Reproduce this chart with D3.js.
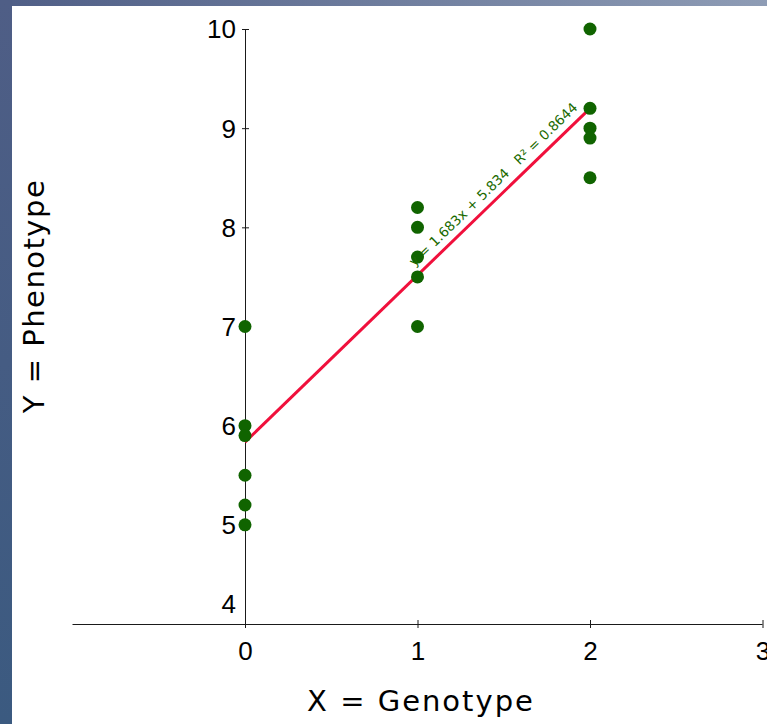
<!DOCTYPE html>
<html>
<head>
<meta charset="utf-8">
<script src="https://cdn.jsdelivr.net/npm/d3@7.9.0/dist/d3.min.js"></script>
<style>
  body { margin: 0; background: #fff; }
  svg { display: block; font-family: 'DejaVu Sans', sans-serif; }
</style>
</head>
<body>
<svg id="chart" width="767" height="724"></svg>
<script>
// genotype groups and the phenotype values
const genotypes = [0, 0, 0, 0, 0, 0, 1, 1, 1, 1, 1, 2, 2, 2, 2, 2];
const phenotypes = [7.0, 6.0, 5.9, 5.5, 5.2, 5.0, 8.2, 8.0, 7.7, 7.5, 7.0, 10.0, 9.2, 9.0, 8.9, 8.5];

// trendline as printed on the chart
const slope = 1.683;
const intercept = 5.834;
const rSquared = '0.8644';

const xTicks = [0, 1, 2, 3];
const yTicks = [4, 5, 6, 7, 8, 9, 10];

const width = 767;
const height = 724;

const svg = d3.select('#chart');

// backdrop: blue frame on the left and top
const defs = svg.append('defs');
const sideGrad = defs.append('linearGradient')
  .attr('id', 'side').attr('x1', 0).attr('y1', 0).attr('x2', 0).attr('y2', 1);
sideGrad.append('stop').attr('offset', 0).attr('stop-color', '#4f5e86');
sideGrad.append('stop').attr('offset', 1).attr('stop-color', '#3b5a80');
const topGrad = defs.append('linearGradient')
  .attr('id', 'topbar').attr('x1', 0).attr('y1', 0).attr('x2', 1).attr('y2', 0);
topGrad.append('stop').attr('offset', 0).attr('stop-color', '#4f5e86');
topGrad.append('stop').attr('offset', 1).attr('stop-color', '#8e9cb5');

svg.append('rect').attr('x', 0).attr('y', 0).attr('width', width).attr('height', 6).attr('fill', 'url(#topbar)');
svg.append('rect').attr('x', 0).attr('y', 0).attr('width', 12).attr('height', height).attr('fill', 'url(#side)');

const x = d3.scaleLinear().domain([-1, 3]).range([72.5, 762.5]);
const y = d3.scaleLinear().domain([4, 10]).range([624, 29]);

// x axis (crosses at y = 4)
const xAxis = svg.append('g')
  .attr('transform', `translate(0,${y(4)})`)
  .call(d3.axisBottom(x).tickValues(xTicks).tickFormat(d3.format('d')).tickSize(4).tickPadding(14));
xAxis.select('.domain').attr('stroke', '#1a1a1a').attr('d', `M${x(-1)},0.5H${x(3)}`);
xAxis.selectAll('.tick line').attr('y1', -4).attr('y2', 4).attr('stroke', '#1a1a1a');
xAxis.selectAll('.tick text').attr('font-size', 26).attr('fill', '#000');

// y axis at x = 0
const yAxis = svg.append('g')
  .attr('transform', `translate(${x(0)},0)`)
  .call(d3.axisLeft(y).tickValues(yTicks).tickFormat(d3.format('d')).tickSize(3).tickPadding(6));
yAxis.select('.domain').attr('stroke', '#1a1a1a').attr('d', `M0.5,${y(10)}V${y(4)}`);
yAxis.selectAll('.tick line').attr('x1', -3).attr('x2', 4).attr('stroke', '#1a1a1a');
yAxis.selectAll('.tick').filter(d => d === 4).select('line').remove();
yAxis.selectAll('.tick text')
  .attr('font-size', 26)
  .attr('fill', '#000')
  .attr('dy', d => (d === 4 ? '-0.45em' : '0.34em'));

// regression line over the observed genotypes
const lineX = d3.extent(genotypes);
svg.append('line')
  .attr('x1', x(lineX[0])).attr('y1', y(intercept + slope * lineX[0]))
  .attr('x2', x(lineX[1])).attr('y2', y(intercept + slope * lineX[1]))
  .attr('stroke', '#f0103c')
  .attr('stroke-width', 3);

// points
svg.append('g')
  .selectAll('circle')
  .data(genotypes.map((g, i) => ({ g, p: phenotypes[i] })))
  .join('circle')
  .attr('cx', d => x(d.g))
  .attr('cy', d => y(d.p))
  .attr('r', 6.5)
  .attr('fill', '#106400');

// equation label along the trendline
const midX = 1.49;
const angle = Math.atan2(y(intercept + slope * 2) - y(intercept), x(2) - x(0)) * 180 / Math.PI;
svg.append('text')
  .attr('transform', `translate(${x(midX)},${y(intercept + slope * midX)}) rotate(${angle})`)
  .attr('dy', -8)
  .attr('text-anchor', 'middle')
  .attr('font-size', 13.5)
  .attr('fill', '#1a6a00')
  .attr('xml:space', 'preserve')
  .text(`y = ${slope}x + ${intercept}   R² = ${rSquared}`);

// axis titles
svg.append('text')
  .attr('x', 421)
  .attr('y', 711)
  .attr('text-anchor', 'middle')
  .attr('font-size', 29)
  .attr('letter-spacing', 2)
  .text('X = Genotype');

svg.append('text')
  .attr('transform', 'translate(44,296) rotate(-90)')
  .attr('text-anchor', 'middle')
  .attr('font-size', 29)
  .attr('letter-spacing', 1.5)
  .text('Y = Phenotype');
</script>
</body>
</html>
